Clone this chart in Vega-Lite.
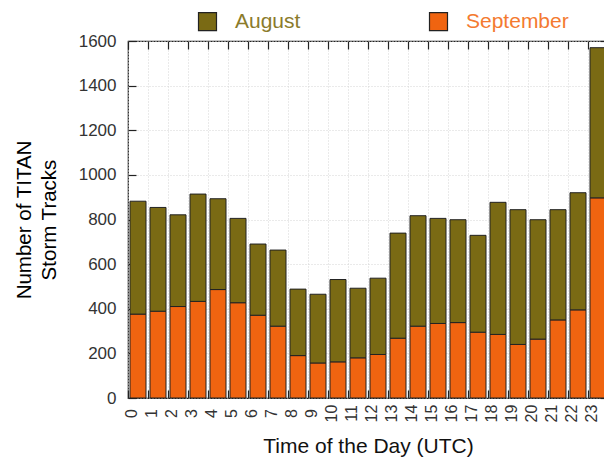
{
  "$schema": "https://vega.github.io/schema/vega-lite/v6.json",
  "width": 480,
  "height": 357,
  "autosize": "none",
  "padding": {"left": 128, "top": 41, "right": -4, "bottom": 63},
  "background": "white",
  "config": {
    "font": "Liberation Sans",
    "view": {"stroke": "#222", "strokeWidth": 1.2}
  },
  "data": {
    "values": [
      {"hour": 0, "month": "September", "count": 376}, {"hour": 0, "month": "August", "count": 506},
      {"hour": 1, "month": "September", "count": 389}, {"hour": 1, "month": "August", "count": 465},
      {"hour": 2, "month": "September", "count": 410}, {"hour": 2, "month": "August", "count": 411},
      {"hour": 3, "month": "September", "count": 433}, {"hour": 3, "month": "August", "count": 481},
      {"hour": 4, "month": "September", "count": 486}, {"hour": 4, "month": "August", "count": 407},
      {"hour": 5, "month": "September", "count": 427}, {"hour": 5, "month": "August", "count": 378},
      {"hour": 6, "month": "September", "count": 371}, {"hour": 6, "month": "August", "count": 319},
      {"hour": 7, "month": "September", "count": 322}, {"hour": 7, "month": "August", "count": 341},
      {"hour": 8, "month": "September", "count": 190}, {"hour": 8, "month": "August", "count": 298},
      {"hour": 9, "month": "September", "count": 157}, {"hour": 9, "month": "August", "count": 308},
      {"hour": 10, "month": "September", "count": 162}, {"hour": 10, "month": "August", "count": 369},
      {"hour": 11, "month": "September", "count": 180}, {"hour": 11, "month": "August", "count": 312},
      {"hour": 12, "month": "September", "count": 195}, {"hour": 12, "month": "August", "count": 342},
      {"hour": 13, "month": "September", "count": 268}, {"hour": 13, "month": "August", "count": 471},
      {"hour": 14, "month": "September", "count": 322}, {"hour": 14, "month": "August", "count": 495},
      {"hour": 15, "month": "September", "count": 334}, {"hour": 15, "month": "August", "count": 471},
      {"hour": 16, "month": "September", "count": 338}, {"hour": 16, "month": "August", "count": 461},
      {"hour": 17, "month": "September", "count": 295}, {"hour": 17, "month": "August", "count": 434},
      {"hour": 18, "month": "September", "count": 285}, {"hour": 18, "month": "August", "count": 592},
      {"hour": 19, "month": "September", "count": 240}, {"hour": 19, "month": "August", "count": 604},
      {"hour": 20, "month": "September", "count": 264}, {"hour": 20, "month": "August", "count": 535},
      {"hour": 21, "month": "September", "count": 350}, {"hour": 21, "month": "August", "count": 494},
      {"hour": 22, "month": "September", "count": 395}, {"hour": 22, "month": "August", "count": 525},
      {"hour": 23, "month": "September", "count": 897}, {"hour": 23, "month": "August", "count": 673}
    ]
  },
  "layer": [
    {
      "mark": {"type": "bar", "stroke": "#222", "strokeWidth": 1, "width": {"band": 0.8}},
      "encoding": {
        "x": {
          "field": "hour", "type": "ordinal",
          "scale": {"paddingInner": 0, "paddingOuter": 0},
          "axis": {
            "orient": "bottom", "bandPosition": 0, "domain": false,
            "tickSize": -8, "tickColor": "#222", "tickWidth": 1.2,
            "grid": true, "gridColor": "#d4d4d4", "gridDash": [1, 2], "gridWidth": 1,
            "labelAngle": 270, "labelAlign": "center", "labelBaseline": "middle",
            "labelFontSize": 16, "labelColor": "#333", "labelPadding": 23, "labelOffset": -6,
            "title": "Time of the Day (UTC)", "titleFontSize": 21, "titleFontWeight": "normal",
            "titleColor": "#111", "titlePadding": 14
          }
        },
        "y": {
          "field": "count", "type": "quantitative", "stack": "zero",
          "scale": {"domain": [0, 1600], "nice": false},
          "axis": {
            "orient": "left", "values": [0, 200, 400, 600, 800, 1000, 1200, 1400, 1600],
            "format": "d",
            "domain": false, "tickSize": -8, "tickColor": "#222", "tickWidth": 1.2,
            "grid": true, "gridColor": "#d4d4d4", "gridDash": [1, 2], "gridWidth": 1,
            "labelFontSize": 17, "labelColor": "#333", "labelPadding": 20,
            "title": ["Number of TITAN", "Storm Tracks"], "titleFontSize": 20.5,
            "titleLineHeight": 25, "titleFontWeight": "normal", "titleColor": "#000",
            "titlePadding": 19
          }
        },
        "color": {
          "field": "month", "type": "nominal",
          "scale": {"domain": ["August", "September"], "range": ["#7a6a14", "#f06410"]},
          "legend": {
            "orient": "none", "legendX": 69, "legendY": -30, "direction": "horizontal",
            "title": null, "symbolType": "square", "symbolSize": 324,
            "symbolStrokeColor": "#222", "symbolStrokeWidth": 1.2, "symbolOpacity": 1,
            "labelFontSize": 21, "labelOffset": 17, "columnPadding": 126, "padding": 0,
            "labelFont": "Liberation Sans",
            "encode": {
              "labels": {
                "update": {
                  "fill": {"signal": "datum.value === 'August' ? '#8b7b2b' : '#f47a30'"}
                }
              }
            }
          }
        },
        "order": {"field": "month", "sort": "descending"}
      }
    },
    {
      "mark": {"type": "bar", "opacity": 0, "width": {"band": 0.8}},
      "encoding": {
        "x": {
          "field": "hour", "type": "ordinal",
          "axis": {
            "orient": "top", "bandPosition": 0, "domain": false, "labels": false,
            "tickSize": -8, "tickColor": "#222", "tickWidth": 1.2, "grid": false, "title": null
          }
        },
        "y": {
          "field": "count", "type": "quantitative", "stack": "zero",
          "axis": {
            "orient": "right", "values": [0, 200, 400, 600, 800, 1000, 1200, 1400, 1600],
            "domain": false, "labels": false, "tickSize": -8, "tickColor": "#222",
            "tickWidth": 1.2, "grid": false, "title": null
          }
        },
        "detail": {"field": "month"},
        "order": {"field": "month", "sort": "descending"}
      }
    }
  ],
  "resolve": {"axis": {"x": "independent", "y": "independent"}}
}
